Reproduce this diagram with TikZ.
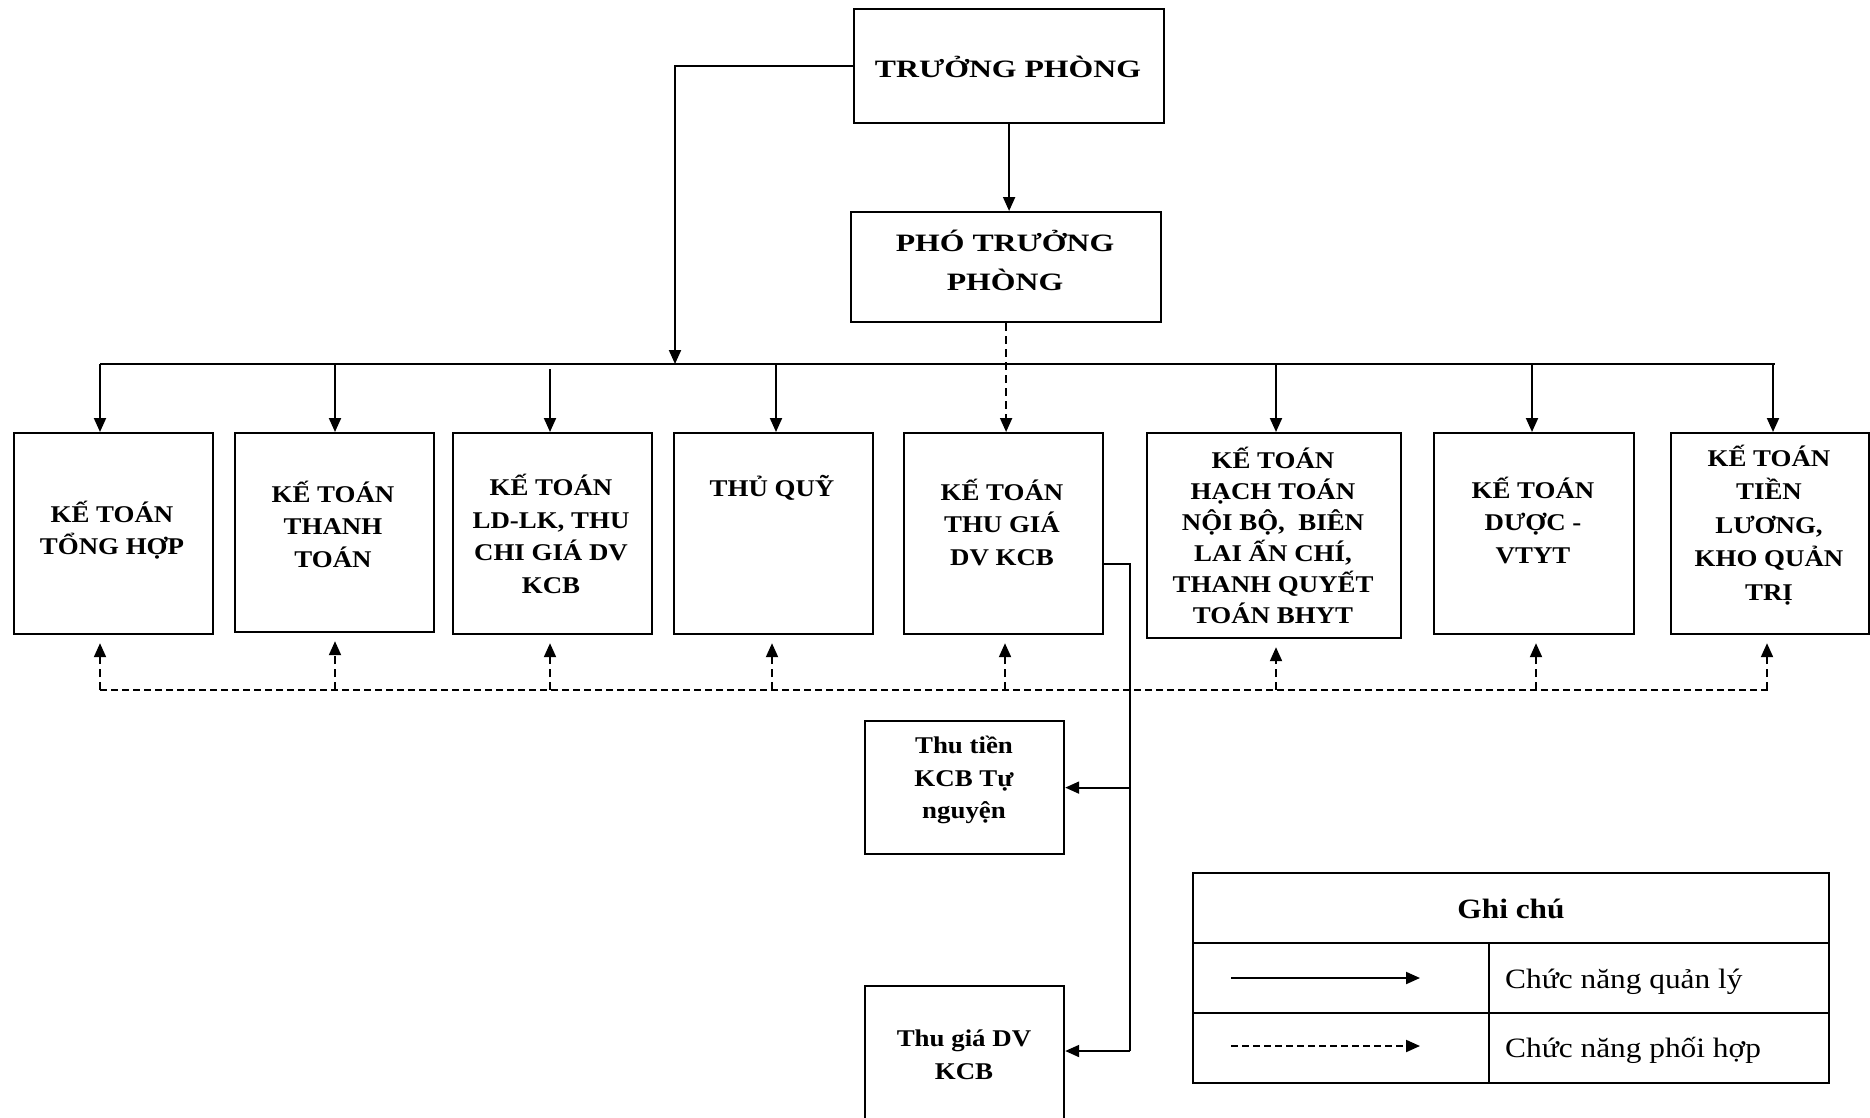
\documentclass[tikz,border=0pt]{standalone}
\usepackage{fontspec}
\setmainfont[FakeStretch=1.12]{Liberation Serif}
\newfontfamily\titlefont[FakeStretch=1.27]{Liberation Serif}
\usetikzlibrary{arrows.meta}
\setlength{\lineskiplimit}{-100pt}

\tikzset{
  box/.style={draw, line width=2.2pt, inner sep=0pt, anchor=north west},
  boxtext/.style={align=center, inner sep=0pt, font=\fontsize{24}{32.5}\selectfont\bfseries},
  headtext/.style={align=center, inner sep=0pt, font=\titlefont\fontsize{25}{39}\selectfont\bfseries},
  legtext/.style={inner sep=0pt, font=\fontsize{28}{34}\selectfont},
  link/.style={line width=2pt},
  arr/.style={line width=2pt, -{Triangle[length=14pt,width=12pt]}},
  darr/.style={line width=2pt, dash pattern=on 8pt off 5pt, -{Triangle[length=14pt,width=12pt]}},
  dline/.style={line width=2pt, dash pattern=on 7pt off 4pt},
}

\begin{document}
\begin{tikzpicture}[x=1pt, y=-1pt]
\useasboundingbox (0,0) rectangle (1870,1117);

% head boxes
\node[box, minimum width=310pt, minimum height=114pt] (tp) at (853,8) {};
\node[headtext] (tpt) at (1008,67) {TRƯỞNG PHÒNG};
\node[box, minimum width=310pt, minimum height=110pt] (ptp) at (850,211) {};
\node[headtext] (ptpt) at (1005,260) {PHÓ TRƯỞNG\\PHÒNG};

% accounting positions
\node[box, minimum width=199pt, minimum height=201pt] (b1) at (13,432) {};
\node[boxtext] (b1t) at (112,530) {KẾ TOÁN\\TỔNG HỢP};
\node[box, minimum width=199pt, minimum height=199pt] (b2) at (234,432) {};
\node[boxtext] (b2t) at (333,524) {KẾ TOÁN\\THANH\\TOÁN};
\node[box, minimum width=199pt, minimum height=201pt] (b3) at (452,432) {};
\node[boxtext] (b3t) at (551,534) {KẾ TOÁN\\LD-LK, THU\\CHI GIÁ DV\\KCB};
\node[box, minimum width=199pt, minimum height=201pt] (b4) at (673,432) {};
\node[boxtext] (b4t) at (772,488) {THỦ QUỸ};
\node[box, minimum width=199pt, minimum height=201pt] (b5) at (903,432) {};
\node[boxtext] (b5t) at (1002,522) {KẾ TOÁN\\THU GIÁ\\DV KCB};
\node[box, minimum width=254pt, minimum height=205pt] (b6) at (1146,432) {};
\node[boxtext, font=\fontsize{24}{31}\selectfont\bfseries] (b6t) at (1273,535) {KẾ TOÁN\\HẠCH TOÁN\\NỘI BỘ,\ \ BIÊN\\LAI ẤN CHÍ,\\THANH QUYẾT\\TOÁN BHYT};
\node[box, minimum width=200pt, minimum height=201pt] (b7) at (1433,432) {};
\node[boxtext] (b7t) at (1533,520) {KẾ TOÁN\\DƯỢC -\\VTYT};
\node[box, minimum width=198pt, minimum height=201pt] (b8) at (1670,432) {};
\node[boxtext, font=\fontsize{24}{33.5}\selectfont\bfseries] (b8t) at (1769,525) {KẾ TOÁN\\TIỀN\\LƯƠNG,\\KHO QUẢN\\TRỊ};

% cashier sub-units
\node[box, minimum width=199pt, minimum height=133pt] (tt) at (864,720) {};
\node[boxtext] (ttt) at (964,780) {Thu tiền\\KCB Tự\\nguyện};
\node[box, minimum width=199pt, minimum height=140pt] (tg) at (864,985) {};
\node[boxtext] (tgt) at (964,1055) {Thu giá DV\\KCB};

% management bus
\coordinate (busL) at (100,364);
\coordinate (busR) at (1775,364);
\coordinate (busTP) at (675,364);
\draw[link] (busL) -- (busR);
\draw[arr] (tp.west) -| (busTP);
\draw[arr] (tp.south) -- (tp.south |- ptp.north);
\draw[darr] (ptp.south) -- (ptp.south |- b5.north);

\coordinate (d1) at (100,364);
\coordinate (d2) at (335,364);
\coordinate (d3) at (550,369);
\coordinate (d4) at (776,364);
\coordinate (d6) at (1276,364);
\coordinate (d7) at (1532,364);
\coordinate (d8) at (1773,364);
\foreach \i in {1,2,3,4,6,7,8}
  \draw[arr] (d\i) -- (d\i |- b\i.north);

% coordination bus
\coordinate (cL) at (100,690);
\coordinate (cR) at (1771,690);
\draw[dline] (cL) -- (cR);
\coordinate (u1) at (100,690);
\coordinate (u2) at (335,690);
\coordinate (u3) at (550,690);
\coordinate (u4) at (772,690);
\coordinate (u5) at (1005,690);
\coordinate (u6) at (1276,690);
\coordinate (u7) at (1536,690);
\coordinate (u8) at (1767,690);
\foreach \i in {1,...,8}
  \draw[darr, shorten >=8pt] (u\i) -- (u\i |- b\i.south);

% links from the price-collection accountant
\coordinate (j1) at (1130,564);
\coordinate (j2) at (1130,1051);
\draw[link] (j1 -| b5.east) -- (j1) -- (j2);
\draw[arr] (j1 |- tt.east) -- (tt.east);
\draw[arr] (j2) -- (j2 -| tg.east);

% legend
\draw[line width=2pt] (1193,873) rectangle (1829,1083);
\draw[line width=2pt] (1193,943) -- (1829,943);
\draw[line width=2pt] (1193,1013) -- (1829,1013);
\draw[line width=2pt] (1489,943) -- (1489,1083);
\node[legtext, font=\fontsize{28}{34}\selectfont\bfseries] (legh) at (1511,909) {Ghi chú};
\coordinate (la1) at (1231,978);
\coordinate (la2) at (1420,978);
\coordinate (lb1) at (1231,1046);
\coordinate (lb2) at (1420,1046);
\draw[arr] (la1) -- (la2);
\draw[darr, dash pattern=on 7pt off 4pt] (lb1) -- (lb2);
\node[legtext, anchor=base west] (lega) at (1505,988) {Chức năng quản lý};
\node[legtext, anchor=base west] (legb) at (1505,1057) {Chức năng phối hợp};
\end{tikzpicture}
\end{document}
